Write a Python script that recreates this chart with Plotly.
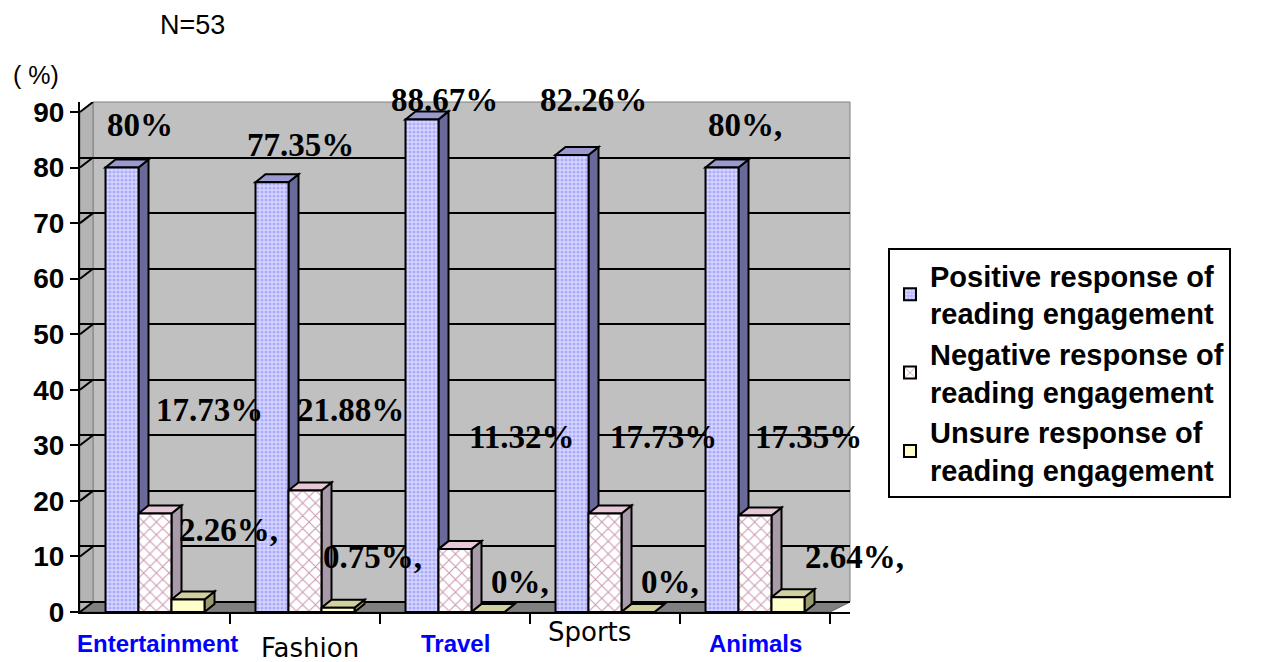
import plotly.graph_objects as go

categories = ["Entertainment", "Fashion", "Travel", "Sports", "Animals"]
positive = [80, 77.35, 88.67, 82.26, 80]
negative = [17.73, 21.88, 11.32, 17.73, 17.35]
unsure = [2.26, 0.75, 0, 0, 2.64]
series_names = [
    "Positive response of<br>reading engagement",
    "Negative response of<br>reading engagement",
    "Unsure response of<br>reading engagement",
]
pos_suffix = ["", "", "", "", ","]
neg_suffix = ["", "", "", "", ""]
uns_suffix = [",", ",", ",", ",", ","]
y_ticks = [0, 10, 20, 30, 40, 50, 60, 70, 80, 90]

# ---- layout geometry (pixels) ----
W, H = 1271, 662
L, R, T, B = 80, 850, 102, 612
PX_PER_Y = 500 / 90.0
DEPTH_X, DEPTH_Y = 10, 8
xr = [-0.5, -0.5 + (R - L) / 150.0]
yr = [0, (B - T) / PX_PER_Y]
dx = DEPTH_X / 150.0
dy = DEPTH_Y / PX_PER_Y
wall_dy = 10 / PX_PER_Y

def px(X):
    return (X - L) / (R - L)

def py(Y):
    return (B - Y) / (B - T)

x_idx = list(range(len(categories)))
bar_w = 0.22

fig = go.Figure()
styles = [
    dict(color="#c0c0ff", pattern=dict(shape=".", fgcolor="#8282f5", bgcolor="#d6d6ff", size=4, solidity=0.5)),
    dict(color="#ffffff", pattern=dict(shape="x", fgcolor="#993366", bgcolor="#ffffff", size=9, solidity=0.22)),
    dict(color="#ffffcc"),
]
for name, vals, st in zip(series_names, [positive, negative, unsure], styles):
    fig.add_trace(go.Bar(
        x=x_idx, y=vals, name=name, width=bar_w,
        marker=dict(line=dict(color="black", width=2), **st),
    ))
# dummy trace to carry the back-wall grid axis
fig.add_trace(go.Scatter(x=[None], y=[None], yaxis="y2", showlegend=False, hoverinfo="skip"))

shapes = []
# back wall
shapes.append(dict(type="rect", xref="paper", yref="paper", x0=px(L + 13), x1=1, y0=py(B - 10), y1=1,
                   fillcolor="#c0c0c0", line=dict(color="#808080", width=1), layer="below"))
# left wall
shapes.append(dict(type="path", xref="paper", yref="paper",
                   path=f"M 0,0 L 0,{py(T+10)} L {px(L+13)},1 L {px(L+13)},{py(B-10)} Z",
                   fillcolor="#b4b4b4", line=dict(color="#808080", width=1), layer="between"))
# floor
shapes.append(dict(type="path", xref="paper", yref="paper",
                   path=f"M 0,0 L {px(830)},0 L 1,{py(B-10)} L {px(L+13)},{py(B-10)} Z",
                   fillcolor="#808080", line=dict(color="#606060", width=1), layer="between"))
# tick connectors on the left wall
for v in y_ticks:
    shapes.append(dict(type="line", xref="paper", yref="y", x0=0, x1=px(L + 13), y0=v, y1=v + wall_dy,
                       line=dict(color="black", width=2), layer="between"))

face_cols = [("#9a9ad0", "#6a6a9a"), ("#e6c8d8", "#a89aa8"), ("#d0d0a0", "#9a9a70")]
offsets = [-bar_w, 0, bar_w]
for k in x_idx:
    for s, vals in enumerate([positive, negative, unsure]):
        v = vals[k]
        x0 = k + offsets[s] - bar_w / 2
        x1 = x0 + bar_w
        top, side = face_cols[s]
        shapes.append(dict(type="path", xref="x", yref="y",
                           path=f"M {x1},0 L {x1},{v} L {x1+dx},{v+dy} L {x1+dx},{dy} Z",
                           fillcolor=side, line=dict(color="black", width=2), layer="between"))
        shapes.append(dict(type="path", xref="x", yref="y",
                           path=f"M {x0},{v} L {x1},{v} L {x1+dx},{v+dy} L {x0+dx},{v+dy} Z",
                           fillcolor=top, line=dict(color="black", width=2), layer="between"))

annotations = []
label_font = dict(family="Liberation Serif, Times New Roman, serif", size=33, color="black", weight="bold")
pos_lbl_xy = [(140, 125), (300, 145), (444, 100), (593, 100), (745, 125)]
neg_lbl_xy = [(209, 410), (350, 410), (521, 437), (663, 437), (808, 437)]
uns_lbl_xy = [(228, 530), (372, 557), (520, 582), (670, 582), (854, 557)]
for vals, suf, xy in [(positive, pos_suffix, pos_lbl_xy), (negative, neg_suffix, neg_lbl_xy),
                      (unsure, uns_suffix, uns_lbl_xy)]:
    for v, sx, (X, Y) in zip(vals, suf, xy):
        annotations.append(dict(text=f"{v:g}%{sx}", xref="paper", yref="paper",
                                x=px(X), y=py(Y), showarrow=False, font=label_font,
                                xanchor="center", yanchor="middle"))

blue_font = dict(family="Liberation Sans, Arial", size=24, color="#0000ff", weight="bold")
plain_font = dict(family="DejaVu Sans, Verdana", size=26, color="black")
cat_styles = [(643, blue_font), (648, plain_font), (643, blue_font), (632, plain_font), (643, blue_font)]
cat_x = [157, 310, 455, 589, 755]
for name, X, (Y, f) in zip(categories, cat_x, cat_styles):
    annotations.append(dict(text=name, xref="paper", yref="paper",
                            x=px(X), y=py(Y), showarrow=False, font=f,
                            xanchor="center", yanchor="middle"))

annotations.append(dict(text="N=53", xref="paper", yref="paper", x=px(192), y=py(25), showarrow=False,
                        font=dict(family="Liberation Sans, Arial", size=27, color="black"),
                        xanchor="center", yanchor="middle"))
annotations.append(dict(text="( %)", xref="paper", yref="paper", x=px(36), y=py(75), showarrow=False,
                        font=dict(family="Liberation Sans, Arial", size=25, color="black"),
                        xanchor="center", yanchor="middle"))

fig.update_layout(
    width=W, height=H,
    margin=dict(l=L, r=W - R, t=T, b=H - B, pad=0),
    paper_bgcolor="white", plot_bgcolor="rgba(0,0,0,0)",
    barmode="group", bargap=0.34, bargroupgap=0,
    xaxis=dict(range=xr, tickvals=[i + 0.5 for i in x_idx], ticktext=["" for _ in x_idx],
               ticks="outside", ticklen=10, tickwidth=2, tickcolor="black",
               showline=True, linecolor="black", linewidth=2, showgrid=False, zeroline=False),
    yaxis=dict(range=yr, tickvals=y_ticks, ticks="outside", ticklen=8, tickwidth=2, tickcolor="black",
               showline=True, linecolor="black", linewidth=2, showgrid=False, zeroline=False,
               tickfont=dict(family="Liberation Sans, Arial", size=28, color="black", weight="bold")),
    yaxis2=dict(range=[-wall_dy, 90], overlaying="y", tickvals=y_ticks, showticklabels=False,
                showgrid=True, gridcolor="black", gridwidth=2, zeroline=False, showline=False),
    legend=dict(xref="container", yref="container", x=888 / W, y=1 - 248 / H,
                xanchor="left", yanchor="top", bordercolor="black", borderwidth=2,
                bgcolor="white", font=dict(family="Liberation Sans, Arial", size=29, color="black", weight="bold"),
                itemsizing="constant", tracegroupgap=8, itemwidth=30),
    shapes=shapes, annotations=annotations, showlegend=True,
)
fig.write_html("out.html")
